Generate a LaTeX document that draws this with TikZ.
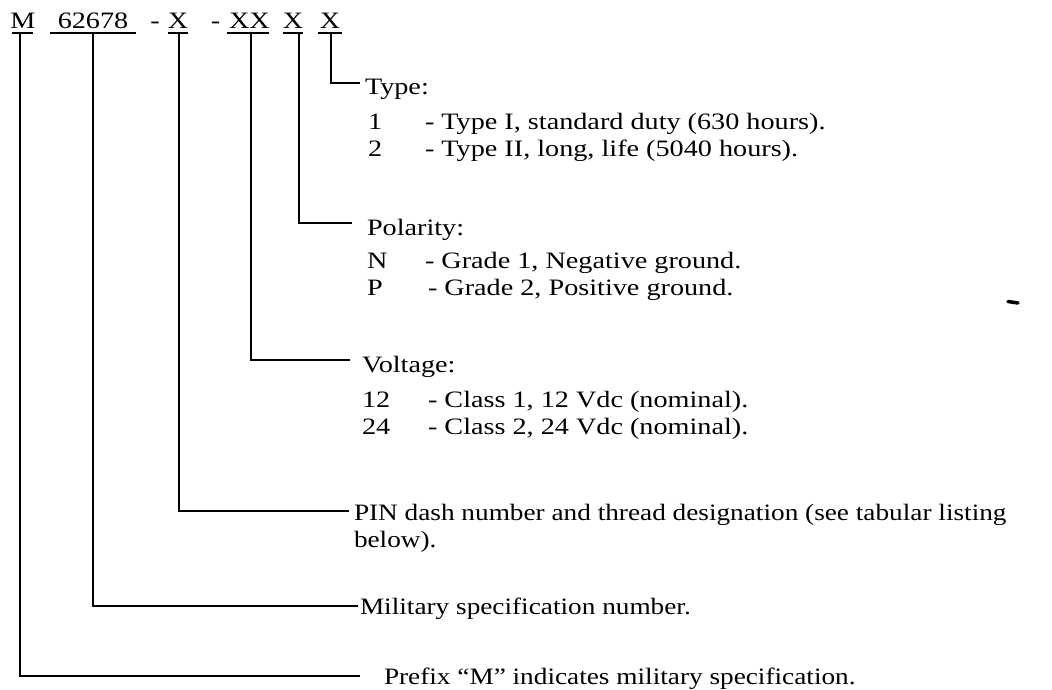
\documentclass[tikz,border=0pt]{standalone}
\usepackage{fontspec}
\setmainfont{Liberation Serif}[FakeStretch=1.2]
\newfontfamily\lowerfont{Liberation Serif}[FakeStretch=1.16]
\begin{document}
\begin{tikzpicture}[x=1pt,y=-1pt,
  txt/.style={inner sep=0pt,outer sep=0pt,font=\fontsize{23.5}{27}\selectfont},
  lbl/.style={txt,anchor=base west},
  lowlbl/.style={lbl,font=\lowerfont\fontsize{23.5}{27}\selectfont},
  top/.style={txt,anchor=base},
  conn/.style={line width=1.9pt},
  uline/.style={line width=1.6pt}]
\useasboundingbox (0,0) rectangle (1052,690);
% top designation row
\node[top] (nM)  at (23,29)    {M};
\node[top] (n62) at (93,29)    {62678};
\node[top] (nd1) at (155,29)   {-};
\node[top] (nX1) at (178,29)   {X};
\node[top] (nd2) at (215.5,29) {-};
\node[top] (nXX) at (249.5,29) {XX};
\node[top] (nX2) at (293,29)   {X};
\node[top] (nX3) at (330,29)   {X};
\draw[uline] (12,33) -- (33,33);
\draw[uline] (50,33) -- (136,33);
\draw[uline] (168,33) -- (188,33);
\draw[uline] (227,33) -- (269,33);
\draw[uline] (283,33) -- (303,33);
\draw[uline] (318,33) -- (342,33);
% connector start points (on the underlines)
\coordinate (uM)  at (20,33);
\coordinate (u62) at (93,33);
\coordinate (uX1) at (179,33);
\coordinate (uXX) at (251,33);
\coordinate (uX2) at (299,33);
\coordinate (uX3) at (331,33);
% connector end points
\coordinate (eType) at (360,83);
\coordinate (ePol)  at (352,223);
\coordinate (eVolt) at (350,360);
\coordinate (ePin)  at (349,511);
\coordinate (eMil)  at (358,606);
\coordinate (ePre)  at (360,676);
\draw[conn] (uX3) |- (eType);
\draw[conn] (uX2) |- (ePol);
\draw[conn] (uXX) |- (eVolt);
\draw[conn] (uX1) |- (ePin);
\draw[conn] (u62) |- (eMil);
\draw[conn] (uM)  |- (ePre);
% Type
\node[lbl] (tType) at (365,95)  {Type:};
\node[lbl] (t1k)   at (368,130) {1};
\node[lbl] (t1v)   at (425,130) {- Type I, standard duty (630 hours).};
\node[lbl] (t2k)   at (368,157) {2};
\node[lbl] (t2v)   at (425,157) {- Type II, long, life (5040 hours).};
% Polarity
\node[lbl] (tPol)  at (367,235) {Polarity:};
\node[lbl] (tNk)   at (367,268) {N};
\node[lbl] (tNv)   at (425,268) {- Grade 1, Negative ground.};
\node[lbl] (tPk)   at (367,295) {P};
\node[lbl] (tPv)   at (428,295) {- Grade 2, Positive ground.};
% Voltage
\node[lbl] (tVolt) at (362,372) {Voltage:};
\node[lbl] (t12k)  at (362,407) {12};
\node[lbl] (t12v)  at (428,407) {- Class 1, 12 Vdc (nominal).};
\node[lbl] (t24k)  at (362,434) {24};
\node[lbl] (t24v)  at (428,434) {- Class 2, 24 Vdc (nominal).};
% PIN
\node[lowlbl] (tPin)  at (354,520) {PIN dash number and thread designation (see tabular listing};
\node[lowlbl] (tPin2) at (354,547) {below).};
% Military
\node[lowlbl] (tMil)  at (360,614) {Military specification number.};
% Prefix
\node[lowlbl] (tPre)  at (384,684) {Prefix “M” indicates military specification.};
% stray mark
\coordinate (d1) at (1008,301.5);
\coordinate (d2) at (1018,303);
\draw[line width=3.5pt,line cap=round] (d1) -- (d2);
\end{tikzpicture}
\end{document}
